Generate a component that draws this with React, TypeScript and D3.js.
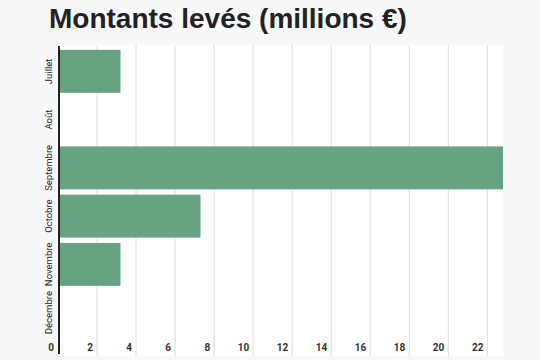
import * as d3 from 'd3';
import * as React from 'react';

const months = ['Juillet', 'Août', 'Septembre', 'Octobre', 'Novembre', 'Décembre'];
const amounts = [3.2, 0, 22.8, 7.3, 3.2, 0];
const xTicks = [0, 2, 4, 6, 8, 10, 12, 14, 16, 18, 20, 22];

const width = 540;
const height = 360;
const left = 58;
const right = 503;
const top = 45;
const bottom = 356;

const App: React.FC = () => {
  const x = d3.scaleLinear().domain([0, 22.8]).range([left, right]);
  const y = d3
    .scaleBand<string>()
    .domain(months)
    .range([47, 337])
    .paddingInner(0.11)
    .paddingOuter(0.06);

  return (
    <svg
      width={width}
      height={height}
      style={{ position: 'absolute', left: 0, top: 0, fontFamily: 'Roboto, sans-serif' }}
    >
      <rect width={width} height={height} fill="#f7f8f9" />
      <rect x={left} y={top} width={right - left} height={bottom - top} fill="#ffffff" />
      <text
        x={49}
        y={28}
        fontSize={28}
        fontWeight={700}
        fill="#222"
        style={{ fontFamily: '"Liberation Sans", Arial, sans-serif' }}
      >
        Montants levés (millions €)
      </text>
      {xTicks.map((t) => (
        <g key={t}>
          {t > 0 && (
            <line x1={x(t)} x2={x(t)} y1={top} y2={bottom} stroke="#e2e2e2" strokeWidth={1.2} />
          )}
          <text
            x={x(t) - 4}
            y={351}
            textAnchor="end"
            fontSize={10}
            fontWeight={700}
            fill="#333"
          >
            {t}
          </text>
        </g>
      ))}
      {months.map((m, i) => (
        <g key={m}>
          <rect
            x={x(0)}
            y={y(m)}
            width={x(amounts[i]) - x(0)}
            height={y.bandwidth()}
            fill="#67a282"
          />
          <text
            transform={`translate(52,${(y(m) ?? 0) + y.bandwidth() / 2}) rotate(-90)`}
            textAnchor="middle"
            fontSize={9.5}
            fill="#222"
          >
            {m}
          </text>
        </g>
      ))}
      <line x1={left + 1} x2={left + 1} y1={46} y2={354} stroke="#222" strokeWidth={2} />
    </svg>
  );
};

export default App;
